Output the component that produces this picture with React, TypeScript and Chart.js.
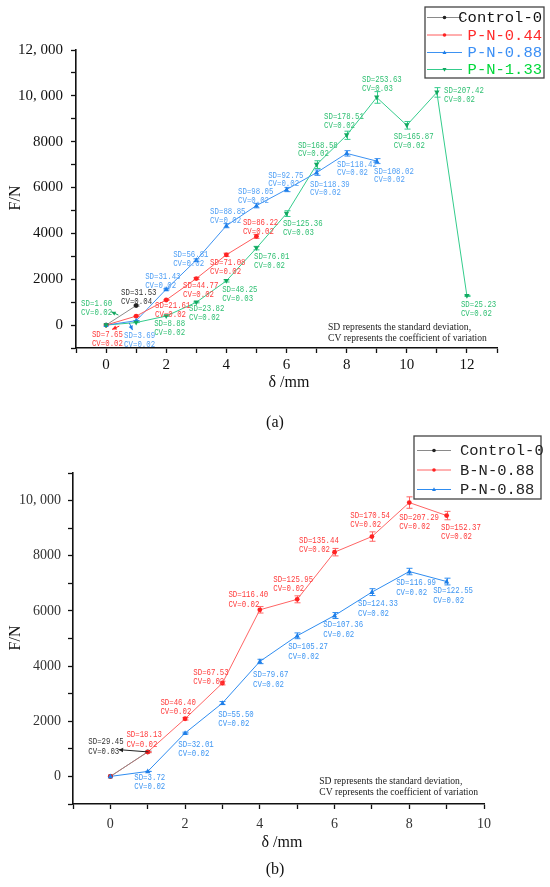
import React, { useEffect, useRef } from "react";
import { Chart, registerables } from "chart.js";
Chart.register(...registerables);

// ================= (a) data =================
const aControlX = [0, 1];
const aControlF = [0, 850];
const aControlSD = [0, 31.53];
const aControlCV = [0, 0.04];
const aControlLblX = [null, 0.5];
const aControlLblY = [null, 1402];

const aP044X = [0, 1, 2, 3, 4, 5];
const aP044F = [0, 390, 1095, 2030, 3066, 3870];
const aP044SD = [0, 7.65, 21.61, 44.77, 71.08, 86.22];
const aP044CV = [0, 0.02, 0.02, 0.02, 0.02, 0.02];
const aP044LblX = [null, -0.47, 1.63, 2.56, 3.46, 4.55];
const aP044LblY = [null, -438, 832, 1708, 2716, 4468];

const aP088X = [0, 1, 2, 3, 4, 5, 6, 7, 8, 9];
const aP088F = [0, 190, 1563, 2833, 4336, 5212, 5913, 6650, 7490, 7153];
const aP088SD = [0, 3.69, 31.43, 56.81, 88.85, 98.05, 92.75, 118.39, 118.42, 108.02];
const aP088CV = [0, 0.02, 0.02, 0.02, 0.02, 0.02, 0.02, 0.02, 0.02, 0.02];
const aP088LblX = [null, 0.6, 1.3, 2.23, 3.46, 4.39, 5.39, 6.78, 7.68, 8.91];
const aP088LblY = [null, -482, 2102, 3066, 4949, 5825, 6526, 6132, 7008, 6701];

const aP133X = [0, 1, 2, 3, 4, 5, 6, 7, 8, 9, 10, 11, 12];
const aP133F = [0, 110, 394, 993, 1927, 3358, 4862, 7000, 8280, 9930, 8716, 10150, 1270];
const aP133SD = [0, 1.6, 8.88, 23.82, 48.25, 76.01, 125.36, 168.58, 178.51, 253.63, 165.87, 207.42, 25.23];
const aP133CV = [0, 0.02, 0.02, 0.02, 0.03, 0.02, 0.03, 0.02, 0.02, 0.03, 0.02, 0.02, 0.02];
const aP133LblX = [null, -0.83, 1.6, 2.76, 3.86, 4.92, 5.88, 6.38, 7.25, 8.51, 9.57, 11.24, 11.8];
const aP133LblY = [null, 920, 44, 701, 1533, 2978, 4424, 7840, 9067, 10687, 8191, 10205, 876];

// ================= (b) data =================
const bControlX = [0, 1];
const bControlF = [0, 890];
const bControlSD = [0, 29.45];
const bControlCV = [0, 0.03];
const bControlLblX = [null, -0.59];
const bControlLblY = [null, 1236];

const bBN088X = [0, 1, 2, 3, 4, 5, 6, 7, 8, 9];
const bBN088F = [0, 884, 2090, 3384, 6040, 6420, 8130, 8696, 9928, 9457];
const bBN088SD = [0, 18.13, 46.4, 67.53, 116.4, 125.95, 135.44, 170.54, 207.29, 152.37];
const bBN088CV = [0, 0.02, 0.02, 0.02, 0.02, 0.02, 0.02, 0.02, 0.02, 0.02];
const bBN088LblX = [null, 0.43, 1.34, 2.22, 3.16, 4.36, 5.05, 6.42, 7.73, 8.85];
const bBN088LblY = [null, 1491, 2680, 3770, 6570, 7127, 8545, 9443, 9371, 9007];

const bPN088X = [0, 1, 2, 3, 4, 5, 6, 7, 8, 9];
const bPN088F = [0, 181, 1572, 2659, 4167, 5098, 5833, 6681, 7428, 7065];
const bPN088SD = [0, 3.72, 32.01, 55.5, 79.67, 105.27, 107.36, 124.33, 116.99, 122.55];
const bPN088CV = [0, 0.02, 0.02, 0.02, 0.02, 0.02, 0.02, 0.02, 0.02, 0.02];
const bPN088LblX = [null, 0.64, 1.82, 2.89, 3.82, 4.76, 5.7, 6.63, 7.65, 8.64];
const bPN088LblY = [null, -47, 1153, 2244, 3672, 4680, 5480, 6243, 7007, 6716];

const noteLines = [
  "SD represents the standard deviation,",
  "CV represents the coefficient of variation",
];

type Series = {
  label: string;
  xs: number[];
  ys: number[];
  sd: number[];
  cv: number[];
  lblX: (number | null)[];
  lblY: (number | null)[];
  line: string;
  point: string;
  text: string;
  legendText: string;
  style: "circle" | "up" | "down";
};

type Arrow = { x1: number; y1: number; x2: number; y2: number; color: string };

type Spec = {
  series: Series[];
  arrows: Arrow[];
  lineGap: number;
  note: { x: number; y: number };
  legend: {
    left: number; top: number; right: number; bottom: number;
    rows: number[]; lx1: number; lx2: number; textX: number; align: "left" | "right";
  };
  yTitle: { x: number; y: number };
  xTitle: { x: number; y: number };
  caption: { text: string; x: number; y: number };
};

function drawMarker(ctx: CanvasRenderingContext2D, x: number, y: number, style: string, color: string, r: number) {
  ctx.save();
  ctx.fillStyle = color;
  ctx.beginPath();
  if (style === "circle") {
    ctx.arc(x, y, r, 0, Math.PI * 2);
  } else if (style === "up") {
    ctx.moveTo(x, y - r * 1.2);
    ctx.lineTo(x + r * 1.1, y + r * 0.8);
    ctx.lineTo(x - r * 1.1, y + r * 0.8);
    ctx.closePath();
  } else {
    ctx.moveTo(x, y + r * 1.2);
    ctx.lineTo(x + r * 1.1, y - r * 0.8);
    ctx.lineTo(x - r * 1.1, y - r * 0.8);
    ctx.closePath();
  }
  ctx.fill();
  ctx.restore();
}

function makePlugin(spec: Spec) {
  return {
    id: "annot",
    afterDatasetsDraw(chart: any) {
      const { ctx } = chart;
      const xs = chart.scales.x;
      const ys = chart.scales.y;
      spec.series.forEach((s) => {
        ctx.save();
        ctx.strokeStyle = s.line;
        ctx.lineWidth = 1;
        s.xs.forEach((xv, i) => {
          const sd = s.sd[i];
          if (!sd) return;
          const px = Math.round(xs.getPixelForValue(xv)) + 0.5;
          const top = ys.getPixelForValue(s.ys[i] + sd);
          const bot = ys.getPixelForValue(s.ys[i] - sd);
          ctx.beginPath();
          ctx.moveTo(px, top);
          ctx.lineTo(px, bot);
          ctx.moveTo(px - 3, top);
          ctx.lineTo(px + 3, top);
          ctx.moveTo(px - 3, bot);
          ctx.lineTo(px + 3, bot);
          ctx.stroke();
        });
        ctx.restore();
        s.xs.forEach((xv, i) => {
          drawMarker(ctx, xs.getPixelForValue(xv), ys.getPixelForValue(s.ys[i]), s.style, s.point, 2.4);
        });
      });
    },
    afterDraw(chart: any) {
      const { ctx } = chart;
      const xs = chart.scales.x;
      const ys = chart.scales.y;
      // SD / CV labels
      spec.series.forEach((s) => {
        s.xs.forEach((_xv, i) => {
          const lx = s.lblX[i];
          const ly = s.lblY[i];
          if (lx == null || ly == null) return;
          const px = xs.getPixelForValue(lx);
          const py = ys.getPixelForValue(ly);
          const lines = [`SD=${s.sd[i].toFixed(2)}`, `CV=${s.cv[i].toFixed(2)}`];
          ctx.save();
          ctx.fillStyle = s.text;
          ctx.font = '8.2px "Liberation Mono"';
          ctx.textBaseline = "middle";
          ctx.textAlign = "left";
          lines.forEach((t, k) => {
            ctx.save();
            ctx.translate(px, py + k * spec.lineGap);
            ctx.scale(0.9, 1);
            ctx.fillText(t, 0, 0);
            ctx.restore();
          });
          ctx.restore();
        });
      });
      // arrows
      spec.arrows.forEach((a) => {
        const x1 = xs.getPixelForValue(a.x1);
        const y1 = ys.getPixelForValue(a.y1);
        const x2 = xs.getPixelForValue(a.x2);
        const y2 = ys.getPixelForValue(a.y2);
        const ang = Math.atan2(y2 - y1, x2 - x1);
        ctx.save();
        ctx.strokeStyle = a.color;
        ctx.fillStyle = a.color;
        ctx.lineWidth = 1;
        ctx.beginPath();
        ctx.moveTo(x1, y1);
        ctx.lineTo(x2, y2);
        ctx.stroke();
        ctx.beginPath();
        ctx.moveTo(x2, y2);
        ctx.lineTo(x2 - 5 * Math.cos(ang - 0.45), y2 - 5 * Math.sin(ang - 0.45));
        ctx.lineTo(x2 - 5 * Math.cos(ang + 0.45), y2 - 5 * Math.sin(ang + 0.45));
        ctx.closePath();
        ctx.fill();
        ctx.restore();
      });
      // note
      ctx.save();
      ctx.fillStyle = "#222";
      ctx.font = '9.6px "Liberation Serif"';
      ctx.textBaseline = "middle";
      ctx.textAlign = "left";
      const nx = xs.getPixelForValue(spec.note.x);
      const ny = ys.getPixelForValue(spec.note.y);
      noteLines.forEach((t, k) => ctx.fillText(t, nx, ny + k * 11));
      ctx.restore();
      // legend
      const L = spec.legend;
      ctx.save();
      ctx.fillStyle = "#fff";
      ctx.fillRect(L.left, L.top, L.right - L.left, L.bottom - L.top);
      ctx.strokeStyle = "#444";
      ctx.lineWidth = 1.3;
      ctx.strokeRect(L.left, L.top, L.right - L.left, L.bottom - L.top);
      spec.series.forEach((s, i) => {
        const ry = L.rows[i];
        ctx.strokeStyle = s.line;
        ctx.lineWidth = 1;
        ctx.beginPath();
        ctx.moveTo(L.lx1, ry + 0.5);
        ctx.lineTo(L.lx2, ry + 0.5);
        ctx.stroke();
        drawMarker(ctx, (L.lx1 + L.lx2) / 2, ry + 0.5, s.style, s.point, 1.8);
        ctx.fillStyle = s.legendText;
        ctx.font = '15.5px "Liberation Mono"';
        ctx.textBaseline = "middle";
        ctx.textAlign = L.align;
        ctx.fillText(s.label, L.textX, ry + 1);
      });
      ctx.restore();
      // axis titles and caption
      ctx.save();
      ctx.fillStyle = "#111";
      ctx.font = '16px "Liberation Serif"';
      ctx.textAlign = "center";
      ctx.textBaseline = "middle";
      ctx.fillText("δ /mm", spec.xTitle.x, spec.xTitle.y);
      ctx.save();
      ctx.translate(spec.yTitle.x, spec.yTitle.y);
      ctx.rotate(-Math.PI / 2);
      ctx.fillText("F/N", 0, 0);
      ctx.restore();
      ctx.font = '16px "Liberation Serif"';
      ctx.fillText(spec.caption.text, spec.caption.x, spec.caption.y);
      ctx.restore();
    },
  };
}

function fmtTick(v: number) {
  if (v >= 10000) return `${Math.floor(v / 1000)}, 000`;
  return String(v);
}

function buildConfig(spec: Spec, opt: {
  xMax: number; yMin: number; yMax: number; padTop: number; padRight: number;
  yWidth: number; xHeight: number; xPad: number; yPad: number; tickColor: string; tickSize: number;
}) {
  const datasets = spec.series.map((s) => ({
    label: s.label,
    data: s.xs.map((x, i) => ({ x, y: s.ys[i] })),
    borderColor: s.line,
    backgroundColor: s.point,
    borderWidth: 1,
    pointRadius: 0,
    tension: 0,
  }));
  const tickFont = { family: "Liberation Serif", size: opt.tickSize };
  return {
    type: "line" as const,
    data: { datasets },
    options: {
      animation: false as const,
      responsive: false,
      maintainAspectRatio: false,
      layout: { padding: { top: opt.padTop, right: opt.padRight, left: 0, bottom: 0 } },
      plugins: { legend: { display: false }, tooltip: { enabled: false } },
      scales: {
        x: {
          type: "linear" as const,
          min: -1,
          max: opt.xMax,
          afterFit: (s: any) => { s.height = opt.xHeight; },
          ticks: {
            stepSize: 1,
            autoSkip: false,
            maxRotation: 0,
            padding: opt.xPad,
            color: opt.tickColor,
            font: tickFont,
            callback: (v: any) => (v >= 0 && v % 2 === 0 ? String(v) : ""),
          },
          grid: { display: true, drawOnChartArea: false, drawTicks: true, tickLength: 5, tickColor: "#111", tickWidth: 1.3 },
          border: { display: true, color: "#111", width: 1.6 },
        },
        y: {
          type: "linear" as const,
          min: opt.yMin,
          max: opt.yMax,
          afterFit: (s: any) => { s.width = opt.yWidth; },
          ticks: {
            stepSize: 1000,
            autoSkip: false,
            padding: opt.yPad,
            color: opt.tickColor,
            font: tickFont,
            callback: (v: any) => (v % 2000 === 0 && v >= 0 ? fmtTick(v) : ""),
          },
          grid: { display: true, drawOnChartArea: false, drawTicks: true, tickLength: 5, tickColor: "#111", tickWidth: 1.3 },
          border: { display: true, color: "#111", width: 1.6 },
        },
      },
    },
    plugins: [makePlugin(spec)],
  };
}

const RED_A = "#ff5c5c";
const BLUE = "#3d92f2";
const GREEN = "#34cc8c";

const specA: Spec = {
  series: [
    { label: "Control-0", xs: aControlX, ys: aControlF, sd: aControlSD, cv: aControlCV, lblX: aControlLblX, lblY: aControlLblY,
      line: "#8a8a8a", point: "#222", text: "#333", legendText: "#111", style: "circle" },
    { label: "P-N-0.44", xs: aP044X, ys: aP044F, sd: aP044SD, cv: aP044CV, lblX: aP044LblX, lblY: aP044LblY,
      line: RED_A, point: "#f22", text: "#ff3c3c", legendText: "#ff2a2a", style: "circle" },
    { label: "P-N-0.88", xs: aP088X, ys: aP088F, sd: aP088SD, cv: aP088CV, lblX: aP088LblX, lblY: aP088LblY,
      line: BLUE, point: "#1f7fe8", text: "#4f9ff5", legendText: "#3b8ff5", style: "up" },
    { label: "P-N-1.33", xs: aP133X, ys: aP133F, sd: aP133SD, cv: aP133CV, lblX: aP133LblX, lblY: aP133LblY,
      line: GREEN, point: "#12a860", text: "#2fbf72", legendText: "#00d83a", style: "down" },
  ],
  arrows: [
    { x1: 0.41, y1: 438, x2: 0.17, y2: 582, color: "#12a860" },
    { x1: 0.44, y1: -44, x2: 0.2, y2: -188, color: "#f22" },
    { x1: 0.77, y1: 101, x2: 0.88, y2: -219, color: "#1f7fe8" },
  ],
  lineGap: 8.8,
  note: { x: 7.38, y: -88 },
  legend: { left: 425, top: 7, right: 544, bottom: 78, rows: [17, 34.5, 52, 69], lx1: 427, lx2: 462, textX: 542, align: "right" },
  yTitle: { x: 16, y: 198 },
  xTitle: { x: 289, y: 383 },
  caption: { text: "(a)", x: 275, y: 423 },
};

const specB: Spec = {
  series: [
    { label: "Control-0", xs: bControlX, ys: bControlF, sd: bControlSD, cv: bControlCV, lblX: bControlLblX, lblY: bControlLblY,
      line: "#8a8a8a", point: "#222", text: "#333", legendText: "#222", style: "circle" },
    { label: "B-N-0.88", xs: bBN088X, ys: bBN088F, sd: bBN088SD, cv: bBN088CV, lblX: bBN088LblX, lblY: bBN088LblY,
      line: "#ff6464", point: "#f22", text: "#ff3c3c", legendText: "#222", style: "circle" },
    { label: "P-N-0.88", xs: bPN088X, ys: bPN088F, sd: bPN088SD, cv: bPN088CV, lblX: bPN088LblX, lblY: bPN088LblY,
      line: "#2e8cf0", point: "#1f7fe8", text: "#3f96f2", legendText: "#222", style: "up" },
  ],
  arrows: [{ x1: 1.02, y1: 887, x2: 0.22, y2: 971, color: "#222" }],
  lineGap: 9.3,
  note: { x: 5.59, y: -182 },
  legend: { left: 414, top: 6, right: 541, bottom: 69, rows: [20, 39.5, 59], lx1: 417, lx2: 451, textX: 460, align: "left" },
  yTitle: { x: 16, y: 208 },
  xTitle: { x: 282, y: 413 },
  caption: { text: "(b)", x: 275, y: 440 },
};

function ChartCanvas(props: { spec: Spec; opt: any; top: number; height: number }) {
  const ref = useRef<HTMLCanvasElement | null>(null);
  useEffect(() => {
    if (!ref.current) return;
    const chart = new Chart(ref.current, buildConfig(props.spec, props.opt) as any);
    return () => chart.destroy();
  }, []);
  return (
    <canvas
      ref={ref}
      width={550}
      height={props.height}
      style={{ position: "absolute", left: 0, top: props.top, width: 550, height: props.height, display: "block" }}
    />
  );
}

export default function App() {
  return (
    <div style={{ position: "absolute", left: 0, top: 0, width: 550, height: 887, background: "#fff", overflow: "hidden" }}>
      <ChartCanvas
        spec={specA}
        top={0}
        height={430}
        opt={{ xMax: 13, yMin: -1000, yMax: 12000, padTop: 50, padRight: 53, yWidth: 76, xHeight: 82, xPad: 3, yPad: 8, tickColor: "#111", tickSize: 15 }}
      />
      <ChartCanvas
        spec={specB}
        top={430}
        height={457}
        opt={{ xMax: 10, yMin: -1000, yMax: 11000, padTop: 43, padRight: 66, yWidth: 73, xHeight: 83, xPad: 7, yPad: 7, tickColor: "#333", tickSize: 14 }}
      />
    </div>
  );
}
